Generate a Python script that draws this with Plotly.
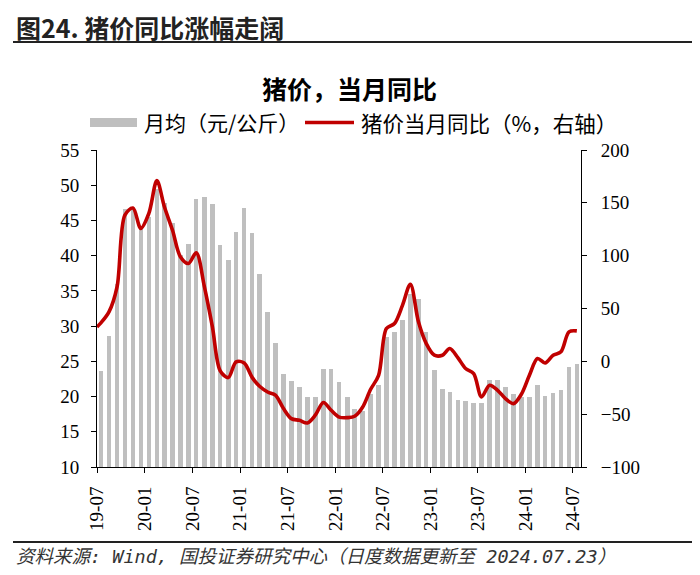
import plotly.graph_objects as go

# ---------------- data ----------------
months = [f"{y}-{m:02d}" for y in range(2019, 2025) for m in range(1, 13)]
months = months[months.index("2019-07"):months.index("2024-07") + 1]

price = [23.6, 28.6, 36.0, 46.6, 46.8, 43.9, 45.5, 49.5, 47.5, 44.7, 40.1, 41.7,
         48.0, 48.3, 47.3, 41.5, 39.4, 43.3, 46.8, 43.2, 37.4, 32.0, 27.6, 23.2,
         22.2, 21.4, 19.9, 19.9, 23.9, 23.9, 22.1, 20.0, 18.2, 17.9, 20.4, 21.6,
         28.5, 29.1, 30.8, 34.5, 33.8, 29.2, 23.8, 21.1, 20.6, 19.5, 19.4, 19.1,
         19.1, 22.4, 22.3, 21.3, 20.3, 19.9, 20.0, 21.6, 20.1, 20.5, 20.9, 24.2,
         24.6]

yoy_start = 32.6  # value on 2019-07-01
yoy = [36.4, 46.8, 70.5, 138.4, 145.0, 125.8, 140.0, 171.0, 146.0, 124.0, 99.0, 92.6,
       102.7, 71.0, 32.6, -9.0, -15.4, -0.5, -1.5, -15.4, -23.6, -29.0, -32.0, -44.7,
       -54.2, -55.8, -58.3, -51.0, -39.0, -46.3, -52.8, -53.3, -52.0, -43.2, -26.7, -13.2,
       31.0, 35.8, 53.2, 73.0, 37.4, 16.8, 5.8, 5.8, 12.1, 3.5, -6.8, -11.6,
       -33.7, -22.6, -27.4, -35.3, -40.0, -31.2, -13.2, 2.6, -1.5, 5.8, 9.0, 27.9,
       28.8]

tick_months = months[::6]
tick_text = [m[2:] for m in tick_months]

# ---------------- geometry helpers (layout only) ----------------
OFF = 8  # default page body margin
W, H = 700 - OFF, 575 - OFF
PL, PR, PT, PB = 97 - OFF, 581 - OFF, 150 - OFF, 467 - OFF


def px(x):
    return (x - OFF - PL) / (PR - PL)


def py(y):
    return (PB - (y - OFF)) / (PB - PT)


GRAY = "#BFBFBF"
RED = "#C00000"
SERIF = "Liberation Serif"
CJK = "Noto Sans CJK SC"
SRC = "DejaVu Sans Mono, Noto Sans CJK SC"

bar_x = [m + "-16" for m in months]
line_x = [months[0] + "-01"] + [m + "-16" for m in months]
line_y = [yoy_start] + yoy

fig = go.Figure()
fig.add_trace(go.Bar(
    x=bar_x, y=price, name="月均（元/公斤）",
    marker=dict(color=GRAY, line=dict(width=0)),
    width=17 * 86400000, yaxis="y",
))
fig.add_trace(go.Scatter(
    x=line_x, y=line_y, name="猪价当月同比（%，右轴）",
    mode="lines", line=dict(color=RED, width=3.6, shape="spline", smoothing=0.9),
    yaxis="y2",
))

axis_common = dict(showgrid=False, zeroline=False, showline=True, linecolor="black",
                   linewidth=1, ticks="outside", ticklen=5, tickcolor="black",
                   tickfont=dict(family=SERIF, size=19, color="black"))

fig.update_layout(
    width=W, height=H,
    margin=dict(l=PL, r=W - PR, t=PT, b=H - PB, pad=0),
    paper_bgcolor="white", plot_bgcolor="white",
    showlegend=False,
    bargap=0,
    xaxis=dict(type="date", range=["2019-07-01", "2024-08-01"],
               tickvals=[m + "-01" for m in tick_months], ticktext=tick_text,
               tickangle=-90, ticklabelstandoff=6, **axis_common),
    yaxis=dict(range=[10, 55], dtick=5, tick0=10, ticklabelstandoff=8, **axis_common),
    yaxis2=dict(range=[-100, 200], dtick=50, tick0=-100, overlaying="y", side="right",
                ticklabelstandoff=10, **axis_common),
)

annotations = [
    dict(text="<b>图24. 猪价同比涨幅走阔</b>", x=px(14), y=py(27), xanchor="left",
         yanchor="middle", font=dict(family=CJK, size=25, color="#222222")),
    dict(text="<b>猪价，当月同比</b>", x=px(349), y=py(88), xanchor="center",
         yanchor="middle", font=dict(family=CJK, size=25, color="black")),
    dict(text="月均（元/公斤）", x=px(142), y=py(122), xanchor="left",
         yanchor="middle", font=dict(family=CJK, size=21, color="black")),
    dict(text="猪价当月同比（%，右轴）", x=px(359), y=py(122), xanchor="left",
         yanchor="middle", font=dict(family=CJK, size=21.5, color="black")),
    dict(text="<i>资料来源: Wind, 国投证券研究中心（日度数据更新至 2024.07.23）</i>",
         x=px(14), y=py(556), xanchor="left", yanchor="middle",
         font=dict(family=SRC, size=18.5, color="#333333")),
]
for a in annotations:
    a.update(xref="paper", yref="paper", showarrow=False)
fig.update_layout(annotations=annotations)

shapes = [
    dict(type="line", x0=px(13), x1=px(699), y0=py(42), y1=py(42),
         line=dict(color="#222222", width=2)),
    dict(type="line", x0=px(13), x1=px(699), y0=py(542), y1=py(542),
         line=dict(color="#222222", width=2)),
    dict(type="rect", x0=px(90), x1=px(137), y0=py(127), y1=py(118),
         fillcolor=GRAY, line=dict(width=0)),
    dict(type="line", x0=px(305), x1=px(354), y0=py(122.5), y1=py(122.5),
         line=dict(color=RED, width=3.6)),
]
for s in shapes:
    s.update(xref="paper", yref="paper")
fig.update_layout(shapes=shapes)

fig.write_html("out.html")
